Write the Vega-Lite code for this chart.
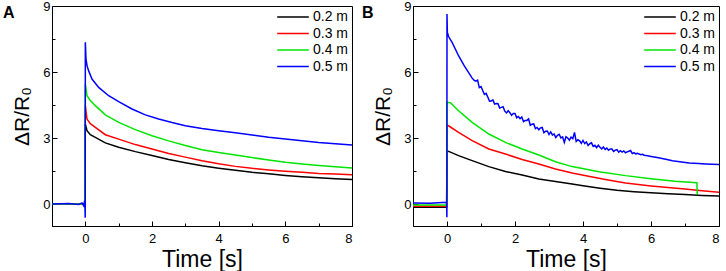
{
  "$schema": "https://vega.github.io/schema/vega-lite/v6.json",
  "padding": {"left": 2, "top": -1, "right": 2, "bottom": 0},
  "spacing": 8,
  "background": "white",
  "config": {
    "view": {"stroke": "black", "strokeWidth": 1},
    "font": "Liberation Sans",
    "axis": {"grid": false, "domainColor": "black", "tickColor": "black", "labelColor": "black", "titleColor": "black", "labelFont": "Liberation Sans", "titleFont": "Liberation Sans", "labelFontSize": 13, "titleFontSize": 21, "titleFontWeight": "normal", "tickWidth": 1},
    "legend": {"labelFont": "Liberation Sans", "labelFontSize": 14, "labelColor": "black"},
    "title": {"font": "Liberation Sans", "fontSize": 16, "fontWeight": "bold", "color": "black"}
  },
  "resolve": {"legend": {"color": "independent"}},
  "datasets": {
    "a": [
      {"s": "0.2 m", "t": -1, "v": 0}, {"s": "0.2 m", "t": -0.01, "v": 0}, {"s": "0.2 m", "t": 0, "v": 3.64}, {"s": "0.2 m", "t": 0.05, "v": 3.33}, {"s": "0.2 m", "t": 0.15, "v": 3.15}, {"s": "0.2 m", "t": 0.3, "v": 3.03}, {"s": "0.2 m", "t": 0.6, "v": 2.78}, {"s": "0.2 m", "t": 1, "v": 2.58}, {"s": "0.2 m", "t": 1.5, "v": 2.38}, {"s": "0.2 m", "t": 2, "v": 2.2}, {"s": "0.2 m", "t": 2.5, "v": 2.02}, {"s": "0.2 m", "t": 3, "v": 1.88}, {"s": "0.2 m", "t": 3.5, "v": 1.74}, {"s": "0.2 m", "t": 4, "v": 1.63}, {"s": "0.2 m", "t": 4.5, "v": 1.53}, {"s": "0.2 m", "t": 5, "v": 1.44}, {"s": "0.2 m", "t": 5.5, "v": 1.37}, {"s": "0.2 m", "t": 6, "v": 1.3}, {"s": "0.2 m", "t": 6.5, "v": 1.24}, {"s": "0.2 m", "t": 7, "v": 1.19}, {"s": "0.2 m", "t": 7.5, "v": 1.15}, {"s": "0.2 m", "t": 8, "v": 1.11},
      {"s": "0.3 m", "t": -1, "v": 0}, {"s": "0.3 m", "t": -0.01, "v": 0}, {"s": "0.3 m", "t": 0, "v": 4.47}, {"s": "0.3 m", "t": 0.05, "v": 3.86}, {"s": "0.3 m", "t": 0.15, "v": 3.65}, {"s": "0.3 m", "t": 0.3, "v": 3.48}, {"s": "0.3 m", "t": 0.6, "v": 3.15}, {"s": "0.3 m", "t": 1, "v": 2.95}, {"s": "0.3 m", "t": 1.5, "v": 2.7}, {"s": "0.3 m", "t": 2, "v": 2.5}, {"s": "0.3 m", "t": 2.5, "v": 2.3}, {"s": "0.3 m", "t": 3, "v": 2.13}, {"s": "0.3 m", "t": 3.5, "v": 1.97}, {"s": "0.3 m", "t": 4, "v": 1.83}, {"s": "0.3 m", "t": 4.5, "v": 1.71}, {"s": "0.3 m", "t": 5, "v": 1.62}, {"s": "0.3 m", "t": 5.5, "v": 1.55}, {"s": "0.3 m", "t": 6, "v": 1.49}, {"s": "0.3 m", "t": 6.5, "v": 1.44}, {"s": "0.3 m", "t": 7, "v": 1.39}, {"s": "0.3 m", "t": 7.5, "v": 1.36}, {"s": "0.3 m", "t": 8, "v": 1.33},
      {"s": "0.4 m", "t": -1, "v": 0}, {"s": "0.4 m", "t": -0.01, "v": 0}, {"s": "0.4 m", "t": 0, "v": 5.45}, {"s": "0.4 m", "t": 0.05, "v": 4.92}, {"s": "0.4 m", "t": 0.15, "v": 4.7}, {"s": "0.4 m", "t": 0.3, "v": 4.47}, {"s": "0.4 m", "t": 0.6, "v": 4.05}, {"s": "0.4 m", "t": 1, "v": 3.71}, {"s": "0.4 m", "t": 1.5, "v": 3.38}, {"s": "0.4 m", "t": 2, "v": 3.1}, {"s": "0.4 m", "t": 2.5, "v": 2.87}, {"s": "0.4 m", "t": 3, "v": 2.66}, {"s": "0.4 m", "t": 3.5, "v": 2.47}, {"s": "0.4 m", "t": 4, "v": 2.34}, {"s": "0.4 m", "t": 4.5, "v": 2.23}, {"s": "0.4 m", "t": 5, "v": 2.11}, {"s": "0.4 m", "t": 5.5, "v": 2.0}, {"s": "0.4 m", "t": 6, "v": 1.9}, {"s": "0.4 m", "t": 6.5, "v": 1.82}, {"s": "0.4 m", "t": 7, "v": 1.75}, {"s": "0.4 m", "t": 7.5, "v": 1.69}, {"s": "0.4 m", "t": 8, "v": 1.64},
      {"s": "0.5 m", "t": -1, "v": 0}, {"s": "0.5 m", "t": -0.5, "v": 0.02}, {"s": "0.5 m", "t": -0.2, "v": -0.02}, {"s": "0.5 m", "t": -0.1, "v": 0.05}, {"s": "0.5 m", "t": -0.05, "v": -0.08}, {"s": "0.5 m", "t": -0.02, "v": 0.15}, {"s": "0.5 m", "t": -0.01, "v": -0.2}, {"s": "0.5 m", "t": -0.003, "v": -0.62}, {"s": "0.5 m", "t": 0, "v": 7.35}, {"s": "0.5 m", "t": 0.02, "v": 6.6}, {"s": "0.5 m", "t": 0.05, "v": 6.29}, {"s": "0.5 m", "t": 0.1, "v": 6.05}, {"s": "0.5 m", "t": 0.2, "v": 5.68}, {"s": "0.5 m", "t": 0.4, "v": 5.3}, {"s": "0.5 m", "t": 0.7, "v": 4.92}, {"s": "0.5 m", "t": 1, "v": 4.65}, {"s": "0.5 m", "t": 1.4, "v": 4.32}, {"s": "0.5 m", "t": 1.8, "v": 4.05}, {"s": "0.5 m", "t": 2.2, "v": 3.86}, {"s": "0.5 m", "t": 2.6, "v": 3.7}, {"s": "0.5 m", "t": 3, "v": 3.56}, {"s": "0.5 m", "t": 3.5, "v": 3.43}, {"s": "0.5 m", "t": 4, "v": 3.33}, {"s": "0.5 m", "t": 4.5, "v": 3.24}, {"s": "0.5 m", "t": 5, "v": 3.14}, {"s": "0.5 m", "t": 5.5, "v": 3.03}, {"s": "0.5 m", "t": 6, "v": 2.95}, {"s": "0.5 m", "t": 6.5, "v": 2.88}, {"s": "0.5 m", "t": 7, "v": 2.8}, {"s": "0.5 m", "t": 7.5, "v": 2.74}, {"s": "0.5 m", "t": 8, "v": 2.68}
    ],
    "b": [
      {"s": "0.2 m", "t": -1, "v": -0.15}, {"s": "0.2 m", "t": -0.01, "v": -0.15}, {"s": "0.2 m", "t": 0, "v": 2.42}, {"s": "0.2 m", "t": 0.1, "v": 2.36}, {"s": "0.2 m", "t": 0.34, "v": 2.2}, {"s": "0.2 m", "t": 0.74, "v": 1.97}, {"s": "0.2 m", "t": 1.23, "v": 1.7}, {"s": "0.2 m", "t": 1.72, "v": 1.48}, {"s": "0.2 m", "t": 2.21, "v": 1.32}, {"s": "0.2 m", "t": 2.7, "v": 1.14}, {"s": "0.2 m", "t": 3.19, "v": 1.02}, {"s": "0.2 m", "t": 3.68, "v": 0.91}, {"s": "0.2 m", "t": 4, "v": 0.83}, {"s": "0.2 m", "t": 4.5, "v": 0.72}, {"s": "0.2 m", "t": 5, "v": 0.62}, {"s": "0.2 m", "t": 5.5, "v": 0.56}, {"s": "0.2 m", "t": 6, "v": 0.51}, {"s": "0.2 m", "t": 6.5, "v": 0.47}, {"s": "0.2 m", "t": 7, "v": 0.43}, {"s": "0.2 m", "t": 7.5, "v": 0.39}, {"s": "0.2 m", "t": 8, "v": 0.36},
      {"s": "0.3 m", "t": -1, "v": -0.1}, {"s": "0.3 m", "t": -0.01, "v": -0.1}, {"s": "0.3 m", "t": 0, "v": 3.6}, {"s": "0.3 m", "t": 0.1, "v": 3.5}, {"s": "0.3 m", "t": 0.34, "v": 3.26}, {"s": "0.3 m", "t": 0.74, "v": 2.88}, {"s": "0.3 m", "t": 1.23, "v": 2.5}, {"s": "0.3 m", "t": 1.72, "v": 2.27}, {"s": "0.3 m", "t": 2.21, "v": 2.02}, {"s": "0.3 m", "t": 2.7, "v": 1.82}, {"s": "0.3 m", "t": 3.19, "v": 1.59}, {"s": "0.3 m", "t": 3.68, "v": 1.41}, {"s": "0.3 m", "t": 4.2, "v": 1.25}, {"s": "0.3 m", "t": 4.7, "v": 1.1}, {"s": "0.3 m", "t": 5.25, "v": 0.95}, {"s": "0.3 m", "t": 6, "v": 0.82}, {"s": "0.3 m", "t": 6.5, "v": 0.75}, {"s": "0.3 m", "t": 7, "v": 0.68}, {"s": "0.3 m", "t": 7.5, "v": 0.6}, {"s": "0.3 m", "t": 8, "v": 0.53},
      {"s": "0.4 m", "t": -1, "v": -0.05}, {"s": "0.4 m", "t": -0.01, "v": -0.05}, {"s": "0.4 m", "t": 0, "v": 4.62}, {"s": "0.4 m", "t": 0.1, "v": 4.6}, {"s": "0.4 m", "t": 0.34, "v": 4.24}, {"s": "0.4 m", "t": 0.74, "v": 3.71}, {"s": "0.4 m", "t": 1.23, "v": 3.18}, {"s": "0.4 m", "t": 1.72, "v": 2.8}, {"s": "0.4 m", "t": 2.21, "v": 2.5}, {"s": "0.4 m", "t": 2.7, "v": 2.23}, {"s": "0.4 m", "t": 3.19, "v": 1.92}, {"s": "0.4 m", "t": 3.68, "v": 1.7}, {"s": "0.4 m", "t": 4.47, "v": 1.47}, {"s": "0.4 m", "t": 5.25, "v": 1.29}, {"s": "0.4 m", "t": 6, "v": 1.15}, {"s": "0.4 m", "t": 6.7, "v": 1.03}, {"s": "0.4 m", "t": 7.35, "v": 0.97}, {"s": "0.4 m", "t": 7.36, "v": 0.43},
      {"s": "0.5 m", "t": -1, "v": 0.05}, {"s": "0.5 m", "t": -0.5, "v": 0.03}, {"s": "0.5 m", "t": -0.02, "v": 0.08}, {"s": "0.5 m", "t": -0.01, "v": 0.1}, {"s": "0.5 m", "t": -0.004, "v": -0.6}, {"s": "0.5 m", "t": 0, "v": 8.64}, {"s": "0.5 m", "t": 0.01, "v": 7.8}, {"s": "0.5 m", "t": 0.05, "v": 7.6}, {"s": "0.5 m", "t": 0.15, "v": 7.35}, {"s": "0.5 m", "t": 0.34, "v": 6.74}, {"s": "0.5 m", "t": 0.5, "v": 6.3}, {"s": "0.5 m", "t": 0.74, "v": 5.72},
      {"s": "0.5 m", "t": 0.8, "v": 5.62}, {"s": "0.5 m", "t": 0.85, "v": 5.58}, {"s": "0.5 m", "t": 0.9, "v": 5.63}, {"s": "0.5 m", "t": 0.95, "v": 5.29}, {"s": "0.5 m", "t": 1.0, "v": 5.34}, {"s": "0.5 m", "t": 1.05, "v": 5.16}, {"s": "0.5 m", "t": 1.1, "v": 4.98}, {"s": "0.5 m", "t": 1.15, "v": 5.03}, {"s": "0.5 m", "t": 1.2, "v": 4.86}, {"s": "0.5 m", "t": 1.25, "v": 4.67}, {"s": "0.5 m", "t": 1.3, "v": 4.68}, {"s": "0.5 m", "t": 1.35, "v": 4.73}, {"s": "0.5 m", "t": 1.4, "v": 4.54}, {"s": "0.5 m", "t": 1.45, "v": 4.57}, {"s": "0.5 m", "t": 1.5, "v": 4.56}, {"s": "0.5 m", "t": 1.55, "v": 4.36}, {"s": "0.5 m", "t": 1.6, "v": 4.39}, {"s": "0.5 m", "t": 1.65, "v": 4.42}, {"s": "0.5 m", "t": 1.7, "v": 4.22}, {"s": "0.5 m", "t": 1.75, "v": 4.14}, {"s": "0.5 m", "t": 1.8, "v": 4.24}, {"s": "0.5 m", "t": 1.85, "v": 4.15}, {"s": "0.5 m", "t": 1.9, "v": 4.03}, {"s": "0.5 m", "t": 1.95, "v": 4.11}, {"s": "0.5 m", "t": 2.0, "v": 4.11}, {"s": "0.5 m", "t": 2.05, "v": 3.92}, {"s": "0.5 m", "t": 2.1, "v": 3.98}, {"s": "0.5 m", "t": 2.15, "v": 3.88}, {"s": "0.5 m", "t": 2.2, "v": 3.95}, {"s": "0.5 m", "t": 2.25, "v": 3.75}, {"s": "0.5 m", "t": 2.3, "v": 3.8}, {"s": "0.5 m", "t": 2.35, "v": 3.8}, {"s": "0.5 m", "t": 2.4, "v": 3.87}, {"s": "0.5 m", "t": 2.45, "v": 3.58}, {"s": "0.5 m", "t": 2.5, "v": 3.63}, {"s": "0.5 m", "t": 2.55, "v": 3.64}, {"s": "0.5 m", "t": 2.6, "v": 3.43}, {"s": "0.5 m", "t": 2.65, "v": 3.48}, {"s": "0.5 m", "t": 2.7, "v": 3.37}, {"s": "0.5 m", "t": 2.75, "v": 3.46}, {"s": "0.5 m", "t": 2.8, "v": 3.48}, {"s": "0.5 m", "t": 2.85, "v": 3.24}, {"s": "0.5 m", "t": 2.9, "v": 3.31}, {"s": "0.5 m", "t": 2.95, "v": 3.32}, {"s": "0.5 m", "t": 3.0, "v": 3.16}, {"s": "0.5 m", "t": 3.05, "v": 3.28}, {"s": "0.5 m", "t": 3.1, "v": 3.14}, {"s": "0.5 m", "t": 3.15, "v": 3.18}, {"s": "0.5 m", "t": 3.2, "v": 3.02}, {"s": "0.5 m", "t": 3.25, "v": 3.12}, {"s": "0.5 m", "t": 3.3, "v": 3.17}, {"s": "0.5 m", "t": 3.35, "v": 3.0}, {"s": "0.5 m", "t": 3.4, "v": 3.05}, {"s": "0.5 m", "t": 3.45, "v": 2.8}, {"s": "0.5 m", "t": 3.5, "v": 3.06}, {"s": "0.5 m", "t": 3.55, "v": 3.0}, {"s": "0.5 m", "t": 3.6, "v": 2.9}, {"s": "0.5 m", "t": 3.65, "v": 3.04}, {"s": "0.5 m", "t": 3.7, "v": 2.97}, {"s": "0.5 m", "t": 3.75, "v": 3.25}, {"s": "0.5 m", "t": 3.8, "v": 2.84}, {"s": "0.5 m", "t": 3.85, "v": 2.92}, {"s": "0.5 m", "t": 3.9, "v": 2.87}, {"s": "0.5 m", "t": 3.95, "v": 2.76}, {"s": "0.5 m", "t": 4.0, "v": 2.89}, {"s": "0.5 m", "t": 4.05, "v": 2.75}, {"s": "0.5 m", "t": 4.1, "v": 2.82}, {"s": "0.5 m", "t": 4.15, "v": 2.66}, {"s": "0.5 m", "t": 4.2, "v": 2.74}, {"s": "0.5 m", "t": 4.25, "v": 2.78}, {"s": "0.5 m", "t": 4.3, "v": 2.62}, {"s": "0.5 m", "t": 4.35, "v": 2.67}, {"s": "0.5 m", "t": 4.4, "v": 2.56}, {"s": "0.5 m", "t": 4.45, "v": 2.67}, {"s": "0.5 m", "t": 4.5, "v": 2.58}, {"s": "0.5 m", "t": 4.55, "v": 2.5}, {"s": "0.5 m", "t": 4.6, "v": 2.59}, {"s": "0.5 m", "t": 4.65, "v": 2.48}, {"s": "0.5 m", "t": 4.7, "v": 2.54}, {"s": "0.5 m", "t": 4.75, "v": 2.44}, {"s": "0.5 m", "t": 4.8, "v": 2.5}, {"s": "0.5 m", "t": 4.85, "v": 2.5}, {"s": "0.5 m", "t": 4.9, "v": 2.39}, {"s": "0.5 m", "t": 4.95, "v": 2.45}, {"s": "0.5 m", "t": 5.0, "v": 2.47}, {"s": "0.5 m", "t": 5.05, "v": 2.36}, {"s": "0.5 m", "t": 5.1, "v": 2.42}, {"s": "0.5 m", "t": 5.15, "v": 2.36}, {"s": "0.5 m", "t": 5.2, "v": 2.41}, {"s": "0.5 m", "t": 5.25, "v": 2.33}, {"s": "0.5 m", "t": 5.3, "v": 2.37}, {"s": "0.5 m", "t": 5.35, "v": 2.4}, {"s": "0.5 m", "t": 5.4, "v": 2.43}, {"s": "0.5 m", "t": 5.45, "v": 2.29}, {"s": "0.5 m", "t": 5.5, "v": 2.33}, {"s": "0.5 m", "t": 5.55, "v": 2.28}, {"s": "0.5 m", "t": 5.6, "v": 2.3}, {"s": "0.5 m", "t": 5.7, "v": 2.24}, {"s": "0.5 m", "t": 5.75, "v": 2.26}, {"s": "0.5 m", "t": 5.8, "v": 2.22}, {"s": "0.5 m", "t": 5.9, "v": 2.19}, {"s": "0.5 m", "t": 6.0, "v": 2.16}, {"s": "0.5 m", "t": 6.14, "v": 2.12}, {"s": "0.5 m", "t": 6.4, "v": 2.05}, {"s": "0.5 m", "t": 6.63, "v": 1.97}, {"s": "0.5 m", "t": 6.9, "v": 1.91}, {"s": "0.5 m", "t": 7.12, "v": 1.86}, {"s": "0.5 m", "t": 7.4, "v": 1.84}, {"s": "0.5 m", "t": 7.61, "v": 1.82}, {"s": "0.5 m", "t": 8.0, "v": 1.79}
    ]
  },
  "hconcat": [
    {
      "width": 300, "height": 220,
      "data": {"name": "a"},
      "title": {"text": "A", "anchor": "start", "frame": "group", "dx": -49, "dy": 25},
      "mark": {"type": "line", "strokeWidth": 1.5, "clip": true},
      "encoding": {
        "x": {"field": "t", "type": "quantitative", "scale": {"domain": [-1, 8], "nice": false, "zero": false},
          "axis": {"title": "Time [s]", "titleFontSize": 23, "values": [0, 1, 2, 3, 4, 5, 6, 7, 8], "labelExpr": "datum.value % 2 === 0 ? datum.label : ''", "tickSize": {"condition": {"test": "datum.value % 2 === 0", "value": -5}, "value": -3}, "labelPadding": 11, "titlePadding": 3}},
        "y": {"field": "v", "type": "quantitative", "scale": {"domain": [-1, 9], "nice": false, "zero": false},
          "axis": {"title": "ΔR/R₀", "values": [0, 1.5, 3, 4.5, 6, 7.5, 9], "labelExpr": "datum.value % 3 === 0 ? datum.label : ''", "tickSize": {"condition": {"test": "datum.value % 3 === 0", "value": -5}, "value": -3}, "labelPadding": 7, "titlePadding": 10}},
        "color": {"field": "s", "type": "nominal", "scale": {"domain": ["0.2 m", "0.3 m", "0.4 m", "0.5 m"], "range": ["#000000", "#ff0000", "#00e600", "#0000ff"]},
          "legend": {"title": null, "orient": "top-right", "offset": 1, "padding": 2, "symbolType": "stroke", "symbolSize": 1000, "symbolStrokeWidth": 1.5, "labelOffset": 3, "clipHeight": 16, "rowPadding": 0.5}}
      }
    },
    {
      "width": 306, "height": 220,
      "data": {"name": "b"},
      "title": {"text": "B", "anchor": "start", "frame": "group", "dx": -51, "dy": 25},
      "mark": {"type": "line", "strokeWidth": 1.5, "clip": true},
      "encoding": {
        "x": {"field": "t", "type": "quantitative", "scale": {"domain": [-1, 8], "nice": false, "zero": false},
          "axis": {"title": "Time [s]", "titleFontSize": 23, "values": [0, 1, 2, 3, 4, 5, 6, 7, 8], "labelExpr": "datum.value % 2 === 0 ? datum.label : ''", "tickSize": {"condition": {"test": "datum.value % 2 === 0", "value": -5}, "value": -3}, "labelPadding": 11, "titlePadding": 3}},
        "y": {"field": "v", "type": "quantitative", "scale": {"domain": [-1, 9], "nice": false, "zero": false},
          "axis": {"title": "ΔR/R₀", "values": [0, 1.5, 3, 4.5, 6, 7.5, 9], "labelExpr": "datum.value % 3 === 0 ? datum.label : ''", "tickSize": {"condition": {"test": "datum.value % 3 === 0", "value": -5}, "value": -3}, "labelPadding": 7, "titlePadding": 10}},
        "color": {"field": "s", "type": "nominal", "scale": {"domain": ["0.2 m", "0.3 m", "0.4 m", "0.5 m"], "range": ["#000000", "#ff0000", "#00e600", "#0000ff"]},
          "legend": {"title": null, "orient": "top-right", "offset": 1, "padding": 2, "symbolType": "stroke", "symbolSize": 1000, "symbolStrokeWidth": 1.5, "labelOffset": 3, "clipHeight": 16, "rowPadding": 0.5}}
      }
    }
  ]
}
